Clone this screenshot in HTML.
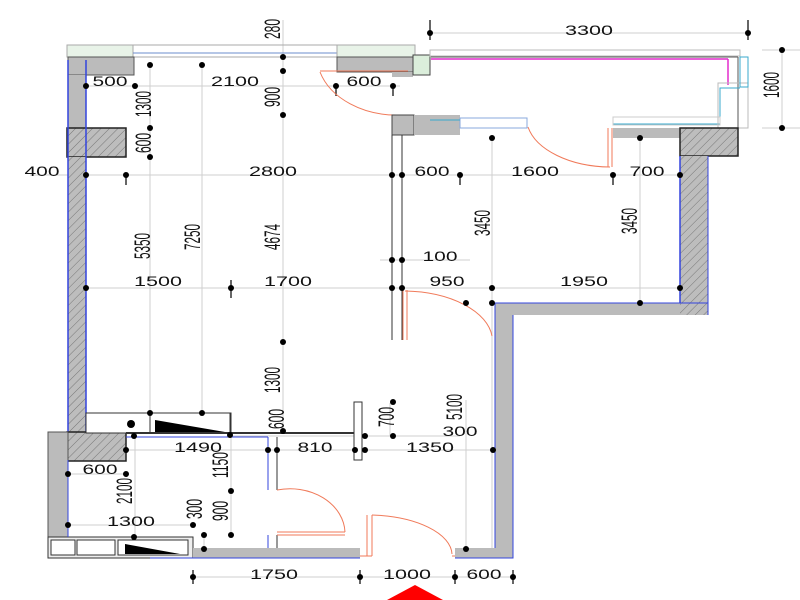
<!DOCTYPE html>
<html><head><meta charset="utf-8"><style>
html,body{margin:0;padding:0;background:#fff;width:800px;height:600px;overflow:hidden}
svg text{font-family:"Liberation Sans",sans-serif;fill:#111}
.h{font-size:14px}
.v{font-size:22px}
</style></head><body>
<svg width="800" height="600" viewBox="0 0 800 600" xmlns="http://www.w3.org/2000/svg">
<defs>
<pattern id="h" width="6" height="6" patternUnits="userSpaceOnUse" patternTransform="rotate(45)">
<rect width="6" height="6" fill="#bdbdbd"/><line x1="0" y1="0" x2="0" y2="6" stroke="#777" stroke-width="1"/></pattern>
</defs>
<g stroke="#cfcfcf" stroke-width="1" fill="none">
<line x1="430" y1="33" x2="748" y2="33"/>
<line x1="762" y1="50" x2="800" y2="50"/><line x1="762" y1="128" x2="800" y2="128"/><line x1="782" y1="50" x2="782" y2="128"/>
<line x1="86" y1="86" x2="400" y2="86"/>
<line x1="30" y1="175" x2="700" y2="175"/>
<line x1="86" y1="288" x2="680" y2="288"/>
<line x1="380" y1="260" x2="470" y2="260"/>
<line x1="150" y1="64" x2="150" y2="412"/>
<line x1="202" y1="64" x2="202" y2="412"/>
<line x1="283" y1="20" x2="283" y2="432"/>
<line x1="492" y1="135" x2="492" y2="548"/>
<line x1="640" y1="135" x2="640" y2="303"/>
<line x1="466" y1="400" x2="466" y2="548"/>
<line x1="126" y1="450" x2="495" y2="450"/>
<line x1="230" y1="436" x2="460" y2="436"/>
<line x1="68" y1="474" x2="126" y2="474"/>
<line x1="68" y1="525" x2="193" y2="525"/>
<line x1="135" y1="435" x2="135" y2="537"/>
<line x1="231" y1="436" x2="231" y2="535"/>
<line x1="204" y1="535" x2="204" y2="549"/>
<line x1="193" y1="577" x2="513" y2="577"/>
<line x1="390" y1="403" x2="390" y2="436"/>
</g>
<g stroke="#000" stroke-width="1.2">
<line x1="430" y1="20" x2="430" y2="40"/><line x1="748" y1="20" x2="748" y2="40"/>
<line x1="126" y1="175" x2="126" y2="185"/><line x1="460" y1="175" x2="460" y2="185"/><line x1="613" y1="175" x2="613" y2="185"/>
<line x1="231" y1="280" x2="231" y2="298"/>
<line x1="193" y1="570" x2="193" y2="584"/><line x1="360" y1="570" x2="360" y2="584"/><line x1="455" y1="570" x2="455" y2="584"/><line x1="513" y1="570" x2="513" y2="584"/>
<line x1="336" y1="86" x2="336" y2="96"/><line x1="393" y1="86" x2="393" y2="96"/>
</g>
<g stroke="#aaa" fill="none">
<rect x="67" y="45" width="66" height="12" fill="#e8f3e8"/>
<rect x="133" y="45" width="204" height="12"/>
<line x1="133" y1="53" x2="337" y2="53" stroke="#6b8ccc"/>
<rect x="337" y="45" width="78" height="12" fill="#e8f3e8"/>
</g>
<rect x="68" y="57" width="66" height="18" fill="#bbb" stroke="#555"/>
<rect x="337" y="57" width="76" height="15" fill="#bbb" stroke="#555"/>
<rect x="392" y="72" width="21" height="5" fill="#bbb"/>
<rect x="413" y="55" width="17" height="20" fill="#dbeedb" stroke="#444"/>
<rect x="68" y="75" width="18" height="53" fill="#bbb"/>
<rect x="67" y="128" width="59" height="29" fill="url(#h)" stroke="#222" stroke-width="1.5"/>
<rect x="68" y="157" width="18" height="275" fill="url(#h)"/>
<line x1="86" y1="60" x2="86" y2="432" stroke="#3344dd" stroke-width="1.5"/>
<line x1="68" y1="60" x2="68" y2="432" stroke="#3344dd" stroke-width="1.5"/>
<rect x="67" y="432" width="59" height="29" fill="url(#h)" stroke="#222" stroke-width="1.5"/>
<rect x="48" y="432" width="20" height="105" fill="#bbb" stroke="#555"/>
<g stroke="#333" fill="#fff">
<rect x="48" y="537" width="145" height="21" fill="#eee"/>
<rect x="51" y="540" width="24" height="15"/><rect x="77" y="540" width="38" height="15"/><rect x="118" y="540" width="70" height="15"/>
<rect x="86" y="413" width="145" height="20" fill="#fff"/>
<rect x="150" y="413" width="80" height="20"/>
</g>
<polygon points="125,544 125,554 180,554" fill="#000"/>
<polygon points="155,420 155,432 225,432" fill="#000"/>
<circle cx="131" cy="424" r="4" fill="#000"/>
<line x1="126" y1="433" x2="360" y2="433" stroke="#333" stroke-width="2"/>
<rect x="354" y="402" width="8" height="58" fill="#fff" stroke="#333"/>
<rect x="193" y="548" width="167" height="10" fill="#bbb"/>
<line x1="150" y1="558" x2="360" y2="558" stroke="#3344dd"/>
<line x1="126" y1="437" x2="268" y2="437" stroke="#3344dd"/>
<line x1="68" y1="460" x2="68" y2="537" stroke="#3344dd"/>
<line x1="268" y1="437" x2="268" y2="490" stroke="#3344dd"/><line x1="268" y1="535" x2="268" y2="548" stroke="#3344dd"/>
<line x1="277" y1="437" x2="277" y2="490" stroke="#333"/><line x1="277" y1="535" x2="277" y2="548" stroke="#333"/>
<g stroke="#f07a5a" fill="none">
<path d="M 277 490 A 55 45 0 0 1 345 532"/>
<line x1="277" y1="532" x2="345" y2="532"/><line x1="277" y1="535" x2="345" y2="535"/>
<path d="M 372 515 A 85 40 0 0 1 452 554"/>
<line x1="367" y1="515" x2="367" y2="556"/><line x1="372" y1="515" x2="372" y2="556"/>
<line x1="360" y1="556" x2="372" y2="556"/><line x1="452" y1="556" x2="455" y2="556"/>
<path d="M 320 72 A 80 60 0 0 0 400 115"/>
<line x1="320" y1="71" x2="408" y2="71"/>
<path d="M 528 127 A 85 50 0 0 0 610 167"/>
<line x1="608" y1="128" x2="608" y2="167"/><line x1="612" y1="128" x2="612" y2="167"/>
<line x1="403" y1="290" x2="403" y2="340"/><line x1="407" y1="290" x2="407" y2="340"/>
<path d="M 405 291 A 90 50 0 0 1 492 336"/>
</g>
<rect x="392" y="115" width="22" height="20" fill="#bbb" stroke="#444"/>
<rect x="414" y="115" width="46" height="20" fill="#bbb"/>
<line x1="392" y1="135" x2="392" y2="340" stroke="#333"/>
<line x1="402" y1="135" x2="402" y2="340" stroke="#333"/>
<rect x="460" y="118" width="67" height="10" fill="#fff" stroke="#8aa8dd"/>
<g fill="none">
<rect x="430" y="50" width="310" height="6" stroke="#bbb"/>
<line x1="431" y1="59" x2="728" y2="59" stroke="#e22ccc" stroke-width="1.5"/>
<line x1="728" y1="59" x2="728" y2="85" stroke="#e22ccc" stroke-width="1.5"/>
<line x1="431" y1="57" x2="738" y2="57" stroke="#555"/>
<line x1="738" y1="57" x2="738" y2="128" stroke="#555"/>
<polyline points="430,120 460,120" stroke="#3aaacc"/>
<polyline points="613,124 720,124 720,88 740,88" stroke="#3aaacc"/>
<rect x="718" y="83" width="30" height="45" stroke="#bbb"/>
<rect x="740" y="57" width="8" height="30" stroke="#3aaacc"/>
<rect x="613" y="117" width="107" height="8" stroke="#ccc"/>
</g>
<rect x="613" y="128" width="67" height="10" fill="#bbb"/>
<rect x="680" y="128" width="58" height="28" fill="url(#h)" stroke="#222" stroke-width="1.5"/>
<rect x="680" y="156" width="28" height="159" fill="url(#h)"/>
<line x1="680" y1="156" x2="680" y2="303" stroke="#3344dd" stroke-width="1.5"/>
<line x1="708" y1="156" x2="708" y2="315" stroke="#3344dd"/>
<path d="M495 303 H680 V315 H513 V558 H455 V548 H495 Z" fill="#bbb"/>
<path d="M495 303 H708 M513 315 V558 H455 M495 303 V548" stroke="#3344dd" fill="none"/>
<g fill="#000">
<circle cx="430" cy="33" r="3"/><circle cx="748" cy="33" r="3"/>
<circle cx="782" cy="50" r="3"/><circle cx="782" cy="128" r="3"/>
<circle cx="283" cy="57" r="3"/><circle cx="283" cy="71" r="3"/><circle cx="283" cy="115" r="3"/>
<circle cx="150" cy="65" r="3"/><circle cx="202" cy="65" r="3"/>
<circle cx="86" cy="86" r="3"/><circle cx="135" cy="86" r="3"/><circle cx="336" cy="86" r="3"/><circle cx="393" cy="86" r="3"/>
<circle cx="150" cy="128" r="3"/><circle cx="150" cy="157" r="3"/>
<circle cx="86" cy="175" r="3"/><circle cx="126" cy="175" r="3"/><circle cx="392" cy="175" r="3"/><circle cx="402" cy="175" r="3"/><circle cx="460" cy="175" r="3"/><circle cx="613" cy="175" r="3"/><circle cx="680" cy="175" r="3"/>
<circle cx="492" cy="138" r="3"/><circle cx="640" cy="138" r="3"/>
<circle cx="392" cy="260" r="3"/><circle cx="402" cy="260" r="3"/>
<circle cx="86" cy="288" r="3"/><circle cx="231" cy="288" r="3"/><circle cx="392" cy="288" r="3"/><circle cx="402" cy="288" r="3"/><circle cx="492" cy="288" r="3"/><circle cx="680" cy="288" r="3"/>
<circle cx="640" cy="303" r="3"/><circle cx="492" cy="303" r="3"/><circle cx="466" cy="303" r="3"/>
<circle cx="283" cy="342" r="3"/><circle cx="283" cy="431" r="3"/>
<circle cx="150" cy="413" r="3"/><circle cx="202" cy="413" r="3"/><circle cx="230" cy="435" r="3"/>
<circle cx="365" cy="436" r="3"/><circle cx="393" cy="436" r="3"/><circle cx="393" cy="402" r="3"/>
<circle cx="134" cy="436" r="3"/><circle cx="126" cy="450" r="3"/><circle cx="268" cy="450" r="3"/><circle cx="277" cy="450" r="3"/><circle cx="355" cy="450" r="3"/><circle cx="365" cy="450" r="3"/><circle cx="493" cy="450" r="3"/>
<circle cx="68" cy="474" r="3"/><circle cx="126" cy="474" r="3"/>
<circle cx="231" cy="491" r="3"/><circle cx="204" cy="535" r="3"/><circle cx="231" cy="535" r="3"/>
<circle cx="68" cy="525" r="3"/><circle cx="193" cy="525" r="3"/><circle cx="134" cy="537" r="3"/><circle cx="204" cy="549" r="3"/>
<circle cx="466" cy="549" r="3"/>
<circle cx="193" cy="577" r="3"/><circle cx="360" cy="577" r="3"/><circle cx="455" cy="577" r="3"/><circle cx="513" cy="577" r="3"/>
</g>
<polygon points="387,600 415,585 443,600" fill="#f00"/>
<g class="h" text-anchor="middle">
<text x="589" y="35" textLength="48" lengthAdjust="spacingAndGlyphs">3300</text>
<text x="110" y="86" textLength="35" lengthAdjust="spacingAndGlyphs">500</text>
<text x="235" y="86" textLength="48" lengthAdjust="spacingAndGlyphs">2100</text>
<text x="364" y="86" textLength="35" lengthAdjust="spacingAndGlyphs">600</text>
<text x="42" y="176" textLength="35" lengthAdjust="spacingAndGlyphs">400</text>
<text x="273" y="176" textLength="48" lengthAdjust="spacingAndGlyphs">2800</text>
<text x="432" y="176" textLength="35" lengthAdjust="spacingAndGlyphs">600</text>
<text x="535" y="176" textLength="48" lengthAdjust="spacingAndGlyphs">1600</text>
<text x="647" y="176" textLength="35" lengthAdjust="spacingAndGlyphs">700</text>
<text x="440" y="261" textLength="35" lengthAdjust="spacingAndGlyphs">100</text>
<text x="158" y="286" textLength="48" lengthAdjust="spacingAndGlyphs">1500</text>
<text x="288" y="286" textLength="48" lengthAdjust="spacingAndGlyphs">1700</text>
<text x="447" y="286" textLength="35" lengthAdjust="spacingAndGlyphs">950</text>
<text x="584" y="286" textLength="48" lengthAdjust="spacingAndGlyphs">1950</text>
<text x="460" y="436" textLength="35" lengthAdjust="spacingAndGlyphs">300</text>
<text x="198" y="452" textLength="48" lengthAdjust="spacingAndGlyphs">1490</text>
<text x="315" y="452" textLength="35" lengthAdjust="spacingAndGlyphs">810</text>
<text x="430" y="452" textLength="48" lengthAdjust="spacingAndGlyphs">1350</text>
<text x="100" y="474" textLength="35" lengthAdjust="spacingAndGlyphs">600</text>
<text x="131" y="526" textLength="48" lengthAdjust="spacingAndGlyphs">1300</text>
<text x="274" y="579" textLength="48" lengthAdjust="spacingAndGlyphs">1750</text>
<text x="407" y="579" textLength="48" lengthAdjust="spacingAndGlyphs">1000</text>
<text x="484" y="579" textLength="35" lengthAdjust="spacingAndGlyphs">600</text>
</g>
<g class="v" text-anchor="middle">
<text transform="translate(272,29) rotate(-90)" y="8" textLength="20" lengthAdjust="spacingAndGlyphs">280</text>
<text transform="translate(272,97) rotate(-90)" y="8" textLength="20" lengthAdjust="spacingAndGlyphs">900</text>
<text transform="translate(143,104) rotate(-90)" y="8" textLength="26" lengthAdjust="spacingAndGlyphs">1300</text>
<text transform="translate(143,143) rotate(-90)" y="8" textLength="20" lengthAdjust="spacingAndGlyphs">600</text>
<text transform="translate(142,246) rotate(-90)" y="8" textLength="26" lengthAdjust="spacingAndGlyphs">5350</text>
<text transform="translate(192,237) rotate(-90)" y="8" textLength="26" lengthAdjust="spacingAndGlyphs">7250</text>
<text transform="translate(272,237) rotate(-90)" y="8" textLength="26" lengthAdjust="spacingAndGlyphs">4674</text>
<text transform="translate(482,223) rotate(-90)" y="8" textLength="26" lengthAdjust="spacingAndGlyphs">3450</text>
<text transform="translate(629,221) rotate(-90)" y="8" textLength="26" lengthAdjust="spacingAndGlyphs">3450</text>
<text transform="translate(771,85) rotate(-90)" y="8" textLength="26" lengthAdjust="spacingAndGlyphs">1600</text>
<text transform="translate(272,380) rotate(-90)" y="8" textLength="26" lengthAdjust="spacingAndGlyphs">1300</text>
<text transform="translate(276,419) rotate(-90)" y="8" textLength="20" lengthAdjust="spacingAndGlyphs">600</text>
<text transform="translate(386,417) rotate(-90)" y="8" textLength="20" lengthAdjust="spacingAndGlyphs">700</text>
<text transform="translate(454,407) rotate(-90)" y="8" textLength="26" lengthAdjust="spacingAndGlyphs">5100</text>
<text transform="translate(220,465) rotate(-90)" y="8" textLength="26" lengthAdjust="spacingAndGlyphs">1150</text>
<text transform="translate(220,511) rotate(-90)" y="8" textLength="20" lengthAdjust="spacingAndGlyphs">900</text>
<text transform="translate(124,491) rotate(-90)" y="8" textLength="26" lengthAdjust="spacingAndGlyphs">2100</text>
<text transform="translate(194,509) rotate(-90)" y="8" textLength="20" lengthAdjust="spacingAndGlyphs">300</text>
</g>
</svg>
</body></html>
